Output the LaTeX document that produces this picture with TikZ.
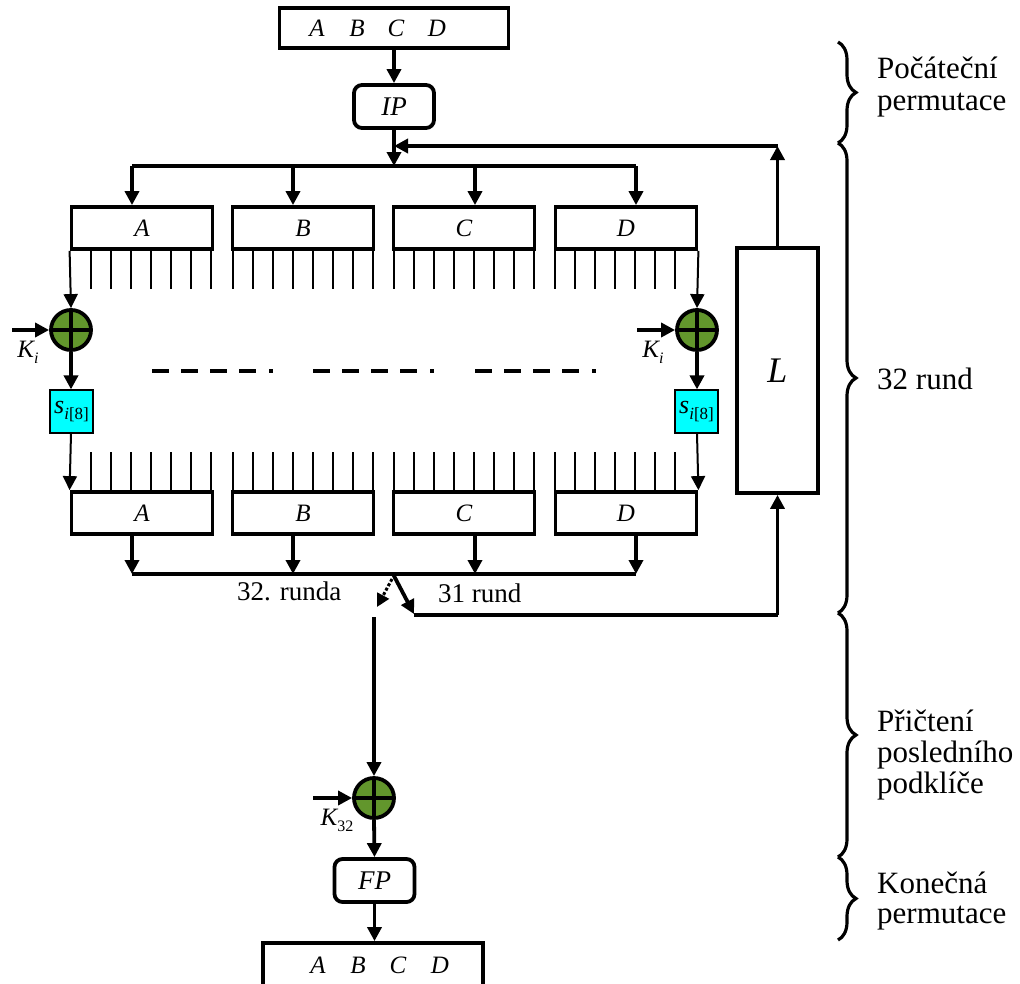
\documentclass[tikz,border=0pt]{standalone}
\usepackage{fontspec}
\setmainfont{Liberation Serif}
\usetikzlibrary{arrows.meta,decorations.pathreplacing}
\definecolor{xorgreen}{RGB}{98,150,44}
\definecolor{sboxcyan}{RGB}{0,255,255}
\tikzset{
  reg/.style={draw, line width=3.8pt, minimum width=141pt, minimum height=42pt, inner sep=0pt,
    font=\fontsize{25}{27}\selectfont\itshape},
  perm/.style={draw, line width=3.8pt, rounded corners=8pt, minimum width=80pt, minimum height=43pt,
    inner sep=0pt, font=\fontsize{27}{29}\selectfont\itshape},
  iobox/.style={draw, line width=3.8pt, inner sep=0pt},
  letter/.style={inner sep=0pt, font=\fontsize{25}{27}\selectfont\itshape},
  xor/.style={circle, draw, line width=3.8pt, fill=xorgreen, minimum size=40pt, inner sep=0pt,
    path picture={\draw[line width=3.8pt] (path picture bounding box.north) -- (path picture bounding box.south)
      (path picture bounding box.west) -- (path picture bounding box.east);}},
  sboxnode/.style={draw, line width=1.2pt, fill=sboxcyan, minimum width=43pt, minimum height=43pt, inner sep=0pt},
  lbox/.style={draw, line width=3.8pt, minimum width=81pt, minimum height=245pt, inner sep=0pt,
    font=\fontsize{36}{38}\selectfont\itshape},
  arr/.style={line width=3.8pt, -{Triangle[length=14pt,width=14pt]}},
  thinarr/.style={line width=2pt, -{Triangle[length=14pt,width=14pt]}},
  wire/.style={line width=3.2pt},
  tickline/.style={line width=1.6pt},
  brc/.style={decorate, decoration={brace, amplitude=18pt}, line width=3.2pt},
  side/.style={font=\fontsize{31}{32}\selectfont, anchor=base west, inner sep=0pt},
  mid/.style={font=\fontsize{27}{28}\selectfont, anchor=base west, inner sep=0pt},
  klabel/.style={inner sep=0pt, font=\fontsize{25}{26}\selectfont\itshape},
  dashrow/.style={line width=4pt, dash pattern=on 17pt off 12pt on 17pt off 12pt on 17pt off 12pt on 17pt off 13pt on 4pt off 100pt},
}
\begin{document}
\begin{tikzpicture}[x=1pt,y=-1pt]
\useasboundingbox (0,0) rectangle (1020,983);
\clip (0,0) rectangle (1020,983);

% input / output
\node[iobox, minimum width=229pt, minimum height=40pt] (inbox) at (394,28) {};
\node[letter] (inA) at (317,28) {A};
\node[letter] (inB) at (357,28) {B};
\node[letter] (inC) at (396,28) {C};
\node[letter] (inD) at (437,28) {D};

\node[perm] (ip) at (394,106.5) {IP};

\node[iobox, minimum width=220pt, minimum height=60pt] (outbox) at (373,973) {};
\node[letter] (outA) at (318,965) {A};
\node[letter] (outB) at (358,965) {B};
\node[letter] (outC) at (398,965) {C};
\node[letter] (outD) at (440,965) {D};

\node[perm] (fp) at (374.5,880.5) {FP};

% registers
\node[reg] (tA) at (142,228) {A};
\node[reg] (tB) at (303,228) {B};
\node[reg] (tC) at (464,228) {C};
\node[reg] (tD) at (626,228) {D};
\node[reg] (bA) at (142,513) {A};
\node[reg] (bB) at (303,513) {B};
\node[reg] (bC) at (464,513) {C};
\node[reg] (bD) at (626,513) {D};

% ticks
\foreach \k in {1,...,7} {
  \draw[tickline] (71+20*\k,249) -- (71+20*\k,289);
  \draw[tickline] (71+20*\k,452) -- (71+20*\k,492);
}
\foreach \l in {233,394} {
  \foreach \k in {0,...,7} {
    \draw[tickline] (\l+20*\k,249) -- (\l+20*\k,289);
    \draw[tickline] (\l+20*\k,452) -- (\l+20*\k,492);
  }
}
\foreach \k in {0,...,6} {
  \draw[tickline] (555+20*\k,249) -- (555+20*\k,289);
  \draw[tickline] (555+20*\k,452) -- (555+20*\k,492);
}

% xor and sboxes
\node[xor] (x1) at (71,330) {};
\node[xor] (x2) at (697,330) {};
\node[xor] (x3) at (374,798) {};
\node[sboxnode] (s1) at (71.5,411.5) {\fontsize{26}{26}\selectfont\itshape s\raisebox{-6pt}{\fontsize{17}{17}\selectfont\itshape i\upshape[8]}};
\node[sboxnode] (s2) at (696.5,411.5) {\fontsize{26}{26}\selectfont\itshape s\raisebox{-6pt}{\fontsize{17}{17}\selectfont\itshape i\upshape[8]}};

\node[lbox] (L) at (777.5,370.5) {L};

% keys
\coordinate (k1) at (12,330);
\coordinate (k2) at (637,330);
\coordinate (k3) at (313,798);
\draw[arr] (k1) -- (x1.west);
\draw[arr] (k2) -- (x2.west);
\draw[arr] (k3) -- (x3.west);
\node[klabel] (ki1) at (28,352) {K\raisebox{-6pt}{\fontsize{16}{16}\selectfont i}};
\node[klabel] (ki2) at (653,352) {K\raisebox{-6pt}{\fontsize{16}{16}\selectfont i}};
\node[klabel] (k32) at (337,820) {K\raisebox{-6pt}{\fontsize{16}{16}\selectfont\upshape 32}};

% vertical chain left/right
\draw[thinarr] (tA.south west) -- (x1.north);
\draw[arr] (x1.south) -- (s1.north -| x1.south);
\draw[thinarr] (s1.south -| x1.south) -- (bA.north west);
\draw[thinarr] (tD.south east) -- (x2.north);
\draw[arr] (x2.south) -- (s2.north -| x2.south);
\draw[thinarr] (s2.south -| x2.south) -- (bD.north east);

% distribution
\coordinate (dA) at (132,166);
\coordinate (dB) at (293,166);
\coordinate (dC) at (475,166);
\coordinate (dD) at (636,166);
\coordinate (dIP) at (394,166);
\draw[arr] (inbox.south -| ip.north) -- (ip.north);
\draw[arr] (ip.south) -- (dIP);
\draw[wire] (dA) -- (dD);
\draw[arr] (dA) -- (dA |- tA.north);
\draw[arr] (dB) -- (dB |- tB.north);
\draw[arr] (dC) -- (dC |- tC.north);
\draw[arr] (dD) -- (dD |- tD.north);

% feedback
\coordinate (fbR) at (777.5,146);
\coordinate (fbL) at (394,146);
\draw[arr] (L.north) -- (fbR);
\draw[arr] (fbR) -- (fbL);

% collection
\coordinate (cA) at (132,574);
\coordinate (cB) at (293,574);
\coordinate (cC) at (475,574);
\coordinate (cD) at (636,574);
\coordinate (sw) at (393,574);
\coordinate (swE) at (414,614);
\coordinate (lowR) at (777.5,615);
\draw[arr] (bA.south -| cA) -- (cA);
\draw[arr] (bB.south -| cB) -- (cB);
\draw[arr] (bC.south -| cC) -- (cC);
\draw[arr] (bD.south -| cD) -- (cD);
\draw[wire] (cA) -- (cD);
\draw[arr] (sw) -- (swE);
\draw[wire] (414,615) -- (lowR);
\draw[arr] (lowR) -- (L.south);
\coordinate (dotS) at (392,579);
\coordinate (dotE) at (377,607);
\draw[line width=3pt, dotted, -{Triangle[length=13pt,width=13pt]}] (dotS) -- (dotE);
\coordinate (vS) at (374,617);
\draw[arr] (vS) -- (x3.north);
\draw[arr] (x3.south) -- (fp.north);
\draw[arr] (fp.south) -- (outbox.north -| fp.south);

\node[mid] (r32) at (237,600) {32. runda};
\node[mid] (r31) at (438,602) {31 rund};

% dashes
\draw[dashrow] (152,371) -- (290,371);
\draw[dashrow] (313,371) -- (450,371);
\draw[dashrow] (475,371) -- (612,371);

% braces
\draw[brc] (838,42) -- (838,143);
\draw[brc] (838,143) -- (838,613);
\draw[brc] (838,613) -- (838,857);
\draw[brc] (838,857) -- (838,940);

\node[side] (t1a) at (877,78) {Počáteční};
\node[side] (t1b) at (877,110) {permutace};
\node[side] (t2) at (877,389) {32 rund};
\node[side] (t3a) at (877,731) {Přičtení};
\node[side] (t3b) at (877,762) {posledního};
\node[side] (t3c) at (877,793) {podklíče};
\node[side] (t4a) at (877,893) {Konečná};
\node[side] (t4b) at (877,923) {permutace};
\end{tikzpicture}
\end{document}
